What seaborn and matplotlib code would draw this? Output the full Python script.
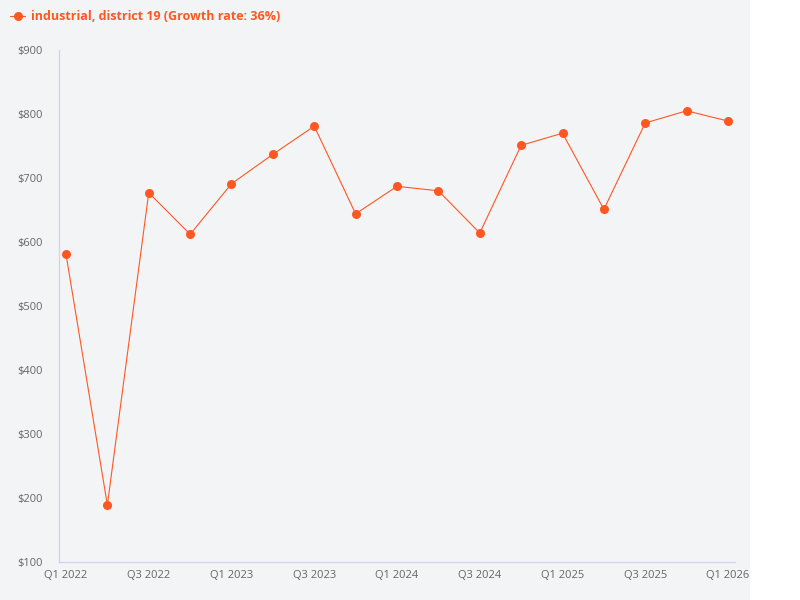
import matplotlib
matplotlib.use("Agg")
import matplotlib.pyplot as plt
import seaborn as sns
import pandas as pd
from matplotlib.patches import Rectangle

quarters = ["Q1 2022", "Q2 2022", "Q3 2022", "Q4 2022",
            "Q1 2023", "Q2 2023", "Q3 2023", "Q4 2023",
            "Q1 2024", "Q2 2024", "Q3 2024", "Q4 2024",
            "Q1 2025", "Q2 2025", "Q3 2025", "Q4 2025",
            "Q1 2026"]
values = [581, 189, 677, 612, 691, 737, 781, 644, 687, 680,
          614, 751, 770, 651, 786, 805, 789]
series_name = "industrial, district 19 (Growth rate: 36%)"
y_ticks = [100, 200, 300, 400, 500, 600, 700, 800, 900]

color = "#ff5722"
bg = "#f3f4f6"

sns.set_theme(style="white")
plt.rcParams['font.family'] = ['Open Sans', 'DejaVu Sans']

df = pd.DataFrame({"idx": range(len(quarters)), "value": values, "series": series_name})

fig = plt.figure(figsize=(8, 6), dpi=100, facecolor="white")
fig.patches.append(Rectangle((0, 0), 750 / 800, 1, transform=fig.transFigure,
                             facecolor=bg, edgecolor="none", zorder=-10))
ax = fig.add_axes([59 / 800, 38 / 600, 676 / 800, 512 / 600])
ax.set_facecolor(bg)

sns.lineplot(data=df, x="idx", y="value", hue="series", palette=[color],
             marker="o", markersize=6.5, markeredgewidth=0, linewidth=0.8,
             ax=ax, legend=True)

ax.set_xlim(-0.169, 16.169)
ax.set_ylim(100, 900)
ax.set_yticks(y_ticks)
ax.set_yticklabels([f"${v}" for v in y_ticks])
ax.set_xticks(list(range(0, len(quarters), 2)))
ax.set_xticklabels(quarters[::2])
ax.tick_params(axis="both", length=0, labelsize=8, colors="#666666")
ax.tick_params(axis="x", pad=6)
ax.tick_params(axis="y", pad=12)
ax.set_xlabel("")
ax.set_ylabel("")
for s in ["top", "right"]:
    ax.spines[s].set_visible(False)
for s in ["left", "bottom"]:
    ax.spines[s].set_color("#ccd6eb")
    ax.spines[s].set_linewidth(1)

leg = ax.legend(loc="upper left", bbox_to_anchor=(0.0, 1.0),
                bbox_transform=fig.transFigure, frameon=False,
                fontsize=9, handlelength=1.2, handletextpad=0.5,
                borderaxespad=0.5, borderpad=0.3)
for t in leg.get_texts():
    t.set_color(color)
    t.set_fontweight("bold")

fig.savefig("out.png", dpi=100, facecolor="white")
